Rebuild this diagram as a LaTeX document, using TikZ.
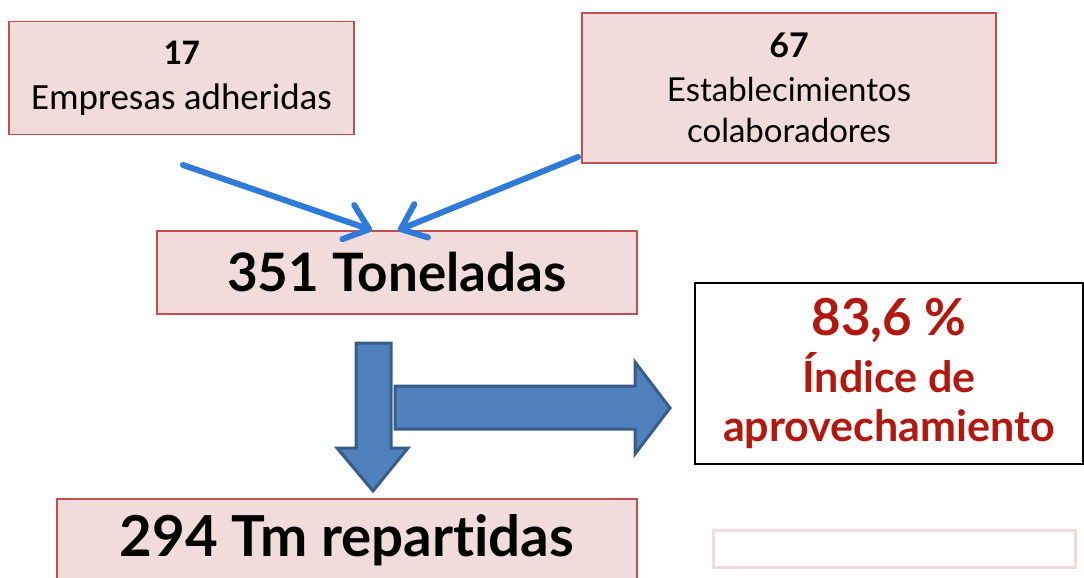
\documentclass[tikz,border=0pt]{standalone}
\usepackage{fontspec}
\setmainfont{Lato}[Ligatures=NoCommon]
\newfontfamily\calibri{Carlito}
\usetikzlibrary{arrows.meta}
\definecolor{boxfill}{HTML}{F2DCDB}
\definecolor{boxline}{HTML}{C0504D}
\definecolor{thinblue}{HTML}{2F7BD9}
\definecolor{blockfill}{HTML}{4F81BD}
\definecolor{blockline}{HTML}{385D8A}
\definecolor{darkred}{HTML}{B4170E}
\tikzset{
  pinkbox/.style={draw=boxline, fill=boxfill, line width=1.5pt, inner sep=0pt, align=center},
  thinarrow/.style={draw=thinblue, line width=6pt, line cap=round,
    -{Straight Barb[length=22pt,width=36pt,round]}},
  blockarrow/.style={draw=blockline, fill=blockfill, line width=3pt, line join=miter}
}
\begin{document}
\begin{tikzpicture}[x=1pt, y=-1pt]
    \useasboundingbox (0, 0) rectangle (1084, 578);

    \node[pinkbox, minimum width=345pt, minimum height=113pt,
      font=\calibri\fontsize{37}{45}\selectfont] (empresas) at (181.5, 78)
      {{\fontsize{36}{45}\selectfont\bfseries 17}\\Empresas adheridas};
    \node[pinkbox, minimum width=414pt, minimum height=150pt,
      font=\fontsize{33}{41}\selectfont] (establ) at (789, 88)
      {{\fontsize{34}{41}\selectfont\bfseries 67}\\[3pt]Establecimientos\\colaboradores};
    \node[pinkbox, minimum width=480pt, minimum height=83pt,
      font=\fontsize{53}{60}\selectfont\bfseries] (toneladas) at (397, 272.5)
      {351 Toneladas};
    \node[pinkbox, minimum width=580pt, minimum height=83pt,
      font=\fontsize{56.5}{60}\selectfont\bfseries] (repartidas) at (347, 540.5)
      {294 Tm repartidas};
    \node[draw=black, fill=white, line width=2.5pt, minimum width=388pt, minimum height=181pt,
      align=center, text=darkred, font=\fontsize{43}{49}\selectfont\bfseries] (indice) at (889, 373.5)
      {{\fontsize{51}{49}\selectfont 83,6 \%}\\[8pt]Índice de\\aprovechamiento};
    \node[draw=boxfill, fill=white, line width=3pt, minimum width=362pt, minimum height=37pt] (vacio) at (894, 548.5) {};

    \coordinate (izq) at (183, 165);
    \coordinate (der) at (578, 157);
    \draw[thinarrow] (izq) -- ([xshift=-25pt]toneladas.north);
    \draw[thinarrow] (der) -- ([xshift=1pt]toneladas.north);

    \draw[blockarrow] (356, 343) -- (391, 343) -- (391, 448) -- (408, 448) -- (373, 491)
      -- (337, 448) -- (356, 448) -- cycle;
    \draw[blockarrow] (395, 386) -- (635, 386) -- (635, 362) -- (670, 408) -- (635, 454)
      -- (635, 429) -- (395, 429) -- cycle;
  \end{tikzpicture}
\end{document}
